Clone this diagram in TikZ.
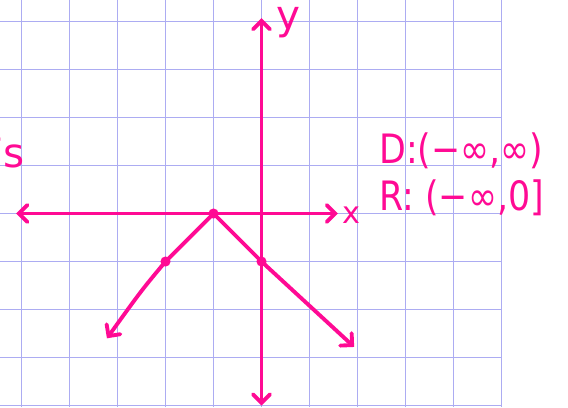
\documentclass[tikz,border=0pt]{standalone}
\usepackage{fontspec}
\setmainfont{DejaVu Sans}
\usepackage{tikz}
\usetikzlibrary{arrows.meta}
\definecolor{ink}{HTML}{FF0A94}
\definecolor{gridblue}{RGB}{172,172,242}

\begin{document}
\begin{tikzpicture}[
    pen/.style={draw=ink, line width=2.3pt, line cap=round, line join=round},
    tip/.style={-{Straight Barb[length=5pt, width=10pt, line cap=round]}},
    dot/.style={circle, fill=ink, inner sep=0pt, minimum size=6pt},
    hand/.style={text=ink, inner sep=0pt, font=\fontsize{24}{26}\selectfont},
    paper/.style={draw=gridblue, line width=0.8pt}]

    \useasboundingbox (-5.448,-4.031) rectangle (6.385,4.448);
    \clip (-5.448,-4.031) rectangle (6.385,4.448);

    % Grid
    \foreach \gx in {-5,...,5}
        \draw[paper] (\gx,-4.031) -- (\gx,4.448);
    \foreach \gy in {-4,...,4}
        \draw[paper] (-5.448,\gy) -- (5,\gy);

    % Axes
    \coordinate (xl) at (-5.11,0);
    \coordinate (xr) at (1.59,0);
    \coordinate (yb) at (0,-4.0);
    \coordinate (yt) at (0,4.07);
    \draw[pen, tip] (0,0) -- (xr);
    \draw[pen, tip] (0,0) -- (xl);
    \draw[pen, tip] (0,0) -- (yt);
    \draw[pen, tip] (0,0) -- (yb);
    \node[hand, anchor=west, font=\fontsize{18}{20}\selectfont] (xlab) at (1.68,-0.03) {x};
    \node[hand, anchor=base west] (ylab) at (0.3,3.84) {y};

    % Points
    \node[dot] (peak) at (-1,0) {};
    \node[dot] (pl) at (-2,-1) {};
    \node[dot] (pr) at (0,-1) {};
    \coordinate (endl) at (-3.22,-2.6);
    \coordinate (endr) at (1.93,-2.78);

    % Graph
    \draw[pen, tip] (peak.center) -- (pl.center) .. controls (-2.5,-1.6) .. (endl);
    \draw[pen, tip] (peak.center) -- (pr.center) -- (endr);

    % Domain and range
    \node[hand, anchor=west, xscale=0.86, transform shape] (dom) at (2.45,1.3) {D:(−∞,∞)};
    \node[hand, anchor=west, xscale=0.86, transform shape] (ran) at (2.45,0.33) {R: (−∞,0]};
    \node[hand, anchor=west] (frag) at (-5.64,1.25) {’s};
\end{tikzpicture}
\end{document}
